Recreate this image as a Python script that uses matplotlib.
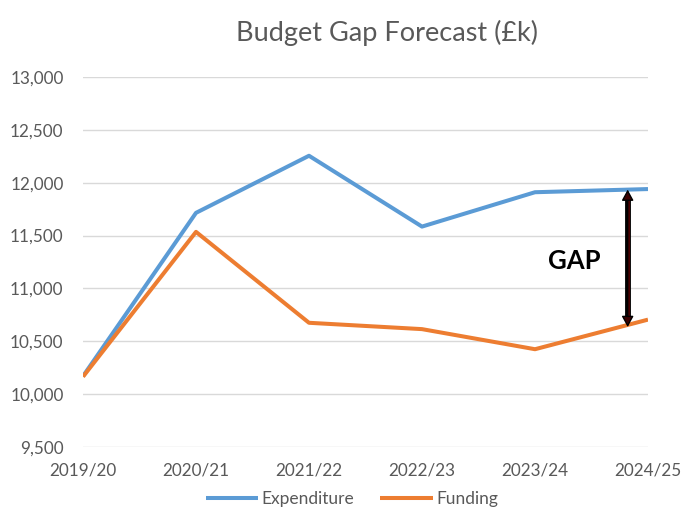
import matplotlib
matplotlib.use("Agg")
import matplotlib.pyplot as plt
from matplotlib.ticker import FuncFormatter, MultipleLocator

categories = ["2019/20", "2020/21", "2021/22", "2022/23", "2023/24", "2024/25"]
expenditure = [10170, 11715, 12255, 11585, 11910, 11940]
funding = [10165, 11535, 10675, 10615, 10425, 10705]

plt.rcParams['font.family'] = ['Lato', 'DejaVu Sans']

fig = plt.figure(figsize=(6.81, 5.11), dpi=100)
ax = fig.add_axes([83/681, 1-447/511, (648-83)/681, (447-77)/511])

x = list(range(len(categories)))
ax.plot(x, expenditure, color="#5B9BD5", lw=2.9, label="Expenditure", solid_capstyle="butt")
ax.plot(x, funding, color="#ED7D31", lw=2.9, label="Funding", solid_capstyle="butt")

ax.set_xlim(0, len(categories) - 1)
ax.set_ylim(9500, 13000)
ax.yaxis.set_major_locator(MultipleLocator(500))
ax.yaxis.set_major_formatter(FuncFormatter(lambda v, p: f"{int(v):,}"))
ax.set_xticks(x)
ax.set_xticklabels(categories)
ax.grid(axis="y", color="#D9D9D9", lw=1)
ax.set_axisbelow(True)
for s in ax.spines.values():
    s.set_visible(False)
ax.tick_params(length=0, labelsize=12.3, colors="#595959")
ax.tick_params(axis="y", pad=14)
ax.tick_params(axis="x", pad=11)

# gap arrow
ax.annotate("", xy=(4.82, 11935), xytext=(4.82, 10635),
            arrowprops=dict(arrowstyle="<|-|>,head_width=0.3,head_length=0.55",
                            fc="#3C0000", ec="#000000", lw=1.0,
                            mutation_scale=12, shrinkA=0, shrinkB=0))
ax.plot([4.82, 4.82], [10700, 11870], color="#000000", lw=4.2, solid_capstyle="butt")
ax.plot([4.82, 4.82], [10700, 11870], color="#4A0000", lw=2.2, solid_capstyle="butt")
ax.text(4.35, 11255, "GAP", fontsize=18.5, fontweight="bold", ha="center", va="center", color="#000000")

fig.text(387/681, 1-33/511, "Budget Gap Forecast (£k)", fontsize=19.5, color="#595959",
         ha="center", va="center")

fig.legend(loc="center", bbox_to_anchor=(352/681, 1-499/511), ncol=2, frameon=False,
           fontsize=12.5, labelcolor="#595959", handlelength=3.0, columnspacing=1.5,
           handletextpad=0.2, borderpad=0.1)

fig.savefig("out.png", dpi=100)
